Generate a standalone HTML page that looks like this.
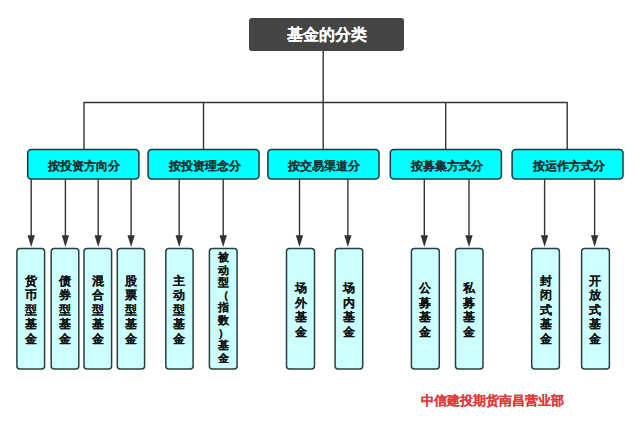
<!DOCTYPE html>
<html><head><meta charset="utf-8">
<style>
html,body{margin:0;padding:0;background:#fff;width:640px;height:430px;overflow:hidden;}
body{position:relative;font-family:"Liberation Sans",sans-serif;}
svg{position:absolute;left:0;top:0;}
.t{position:absolute;left:249px;top:18px;width:155px;height:33px;color:#fff;font-weight:bold;font-size:16px;line-height:33px;text-align:center;-webkit-text-stroke:0.1px #fff;}
.c{position:absolute;top:149.6px;height:29.40px;color:#0f3535;font-weight:bold;font-size:12px;line-height:30px;padding-top:1.5px;padding-left:1px;text-align:center;-webkit-text-stroke:0.1px #0f3535;}
.l{position:absolute;top:248.4px;height:120.60px;color:#111;font-weight:bold;font-size:11.5px;line-height:14.5px;text-align:center;display:flex;align-items:center;justify-content:center;-webkit-text-stroke:0.1px #111;}
.l span{display:block;padding-top:3px;}
.l span.s{font-size:11px;line-height:12.6px;padding-top:0;margin-top:-2px;}
.r{position:absolute;left:421px;top:393px;color:#e03a3a;font-weight:bold;font-size:13px;line-height:16px;-webkit-text-stroke:0.1px #e03a3a;}
</style></head><body>
<svg width="640" height="430">
<rect x="249" y="18" width="155" height="33" rx="3" fill="#444"/>
<g stroke="#333" stroke-width="1.4" fill="none" stroke-linejoin="round">
<line x1="323.2" y1="51" x2="323.2" y2="149"/>
<path d="M84 149 V102.5 H567.2 V149"/>
<line x1="203.5" y1="102.5" x2="203.5" y2="149"/>
<line x1="445.7" y1="102.5" x2="445.7" y2="149"/>
</g>
<g stroke="#163a3a" stroke-width="1.5">
<rect x="27.7" y="149.6" width="111.20" height="29.40" rx="3.5" fill="#00ffff"/>
<rect x="148.1" y="149.6" width="110.90" height="29.40" rx="3.5" fill="#00ffff"/>
<rect x="267.9" y="149.6" width="111.10" height="29.40" rx="3.5" fill="#00ffff"/>
<rect x="390.3" y="149.6" width="111.10" height="29.40" rx="3.5" fill="#00ffff"/>
<rect x="512.1" y="149.6" width="110.90" height="29.40" rx="3.5" fill="#00ffff"/>
</g>
<g stroke="#2b3f3f" stroke-width="1.5">
<rect x="16.9" y="248.4" width="27.70" height="120.60" rx="3" fill="#ccffff"/>
<rect x="51.2" y="248.4" width="27.60" height="120.60" rx="3" fill="#ccffff"/>
<rect x="84.0" y="248.4" width="27.60" height="120.60" rx="3" fill="#ccffff"/>
<rect x="117.3" y="248.4" width="27.30" height="120.60" rx="3" fill="#ccffff"/>
<rect x="165.8" y="248.4" width="27.30" height="120.60" rx="3" fill="#ccffff"/>
<rect x="209.4" y="248.4" width="27.70" height="120.60" rx="3" fill="#ccffff"/>
<rect x="286.5" y="248.4" width="28.00" height="120.60" rx="3" fill="#ccffff"/>
<rect x="335.1" y="248.4" width="27.60" height="120.60" rx="3" fill="#ccffff"/>
<rect x="411.4" y="248.4" width="27.90" height="120.60" rx="3" fill="#ccffff"/>
<rect x="455.5" y="248.4" width="27.50" height="120.60" rx="3" fill="#ccffff"/>
<rect x="531.7" y="248.4" width="27.70" height="120.60" rx="3" fill="#ccffff"/>
<rect x="581.6" y="248.4" width="27.80" height="120.60" rx="3" fill="#ccffff"/>
</g>
<g stroke="#333" stroke-width="1.4" fill="#333">
<line x1="31.2" y1="179.0" x2="31.2" y2="238"/>
<polygon stroke="none" points="27.55,235.3 34.85,235.3 31.2,247"/>
<line x1="65.4" y1="179.0" x2="65.4" y2="238"/>
<polygon stroke="none" points="61.75,235.3 69.05,235.3 65.4,247"/>
<line x1="98.2" y1="179.0" x2="98.2" y2="238"/>
<polygon stroke="none" points="94.55,235.3 101.85,235.3 98.2,247"/>
<line x1="131.1" y1="179.0" x2="131.1" y2="238"/>
<polygon stroke="none" points="127.45,235.3 134.75,235.3 131.1,247"/>
<line x1="179.2" y1="179.0" x2="179.2" y2="238"/>
<polygon stroke="none" points="175.55,235.3 182.85,235.3 179.2,247"/>
<line x1="223.2" y1="179.0" x2="223.2" y2="238"/>
<polygon stroke="none" points="219.55,235.3 226.85,235.3 223.2,247"/>
<line x1="299.5" y1="179.0" x2="299.5" y2="238"/>
<polygon stroke="none" points="295.85,235.3 303.15,235.3 299.5,247"/>
<line x1="347.9" y1="179.0" x2="347.9" y2="238"/>
<polygon stroke="none" points="344.25,235.3 351.55,235.3 347.9,247"/>
<line x1="424.3" y1="179.0" x2="424.3" y2="238"/>
<polygon stroke="none" points="420.65,235.3 427.95,235.3 424.3,247"/>
<line x1="469.0" y1="179.0" x2="469.0" y2="238"/>
<polygon stroke="none" points="465.35,235.3 472.65,235.3 469.0,247"/>
<line x1="544.6" y1="179.0" x2="544.6" y2="238"/>
<polygon stroke="none" points="540.95,235.3 548.25,235.3 544.6,247"/>
<line x1="594.6" y1="179.0" x2="594.6" y2="238"/>
<polygon stroke="none" points="590.95,235.3 598.25,235.3 594.6,247"/>
</g>
</svg>
<div class="t">基金的分类</div>
<div class="c" style="left:27.7px;width:111.20px">按投资方向分</div>
<div class="c" style="left:148.1px;width:110.90px">按投资理念分</div>
<div class="c" style="left:267.9px;width:111.10px">按交易渠道分</div>
<div class="c" style="left:390.3px;width:111.10px">按募集方式分</div>
<div class="c" style="left:512.1px;width:110.90px">按运作方式分</div>
<div class="l" style="left:16.9px;width:27.70px"><span>货<br>币<br>型<br>基<br>金</span></div>
<div class="l" style="left:51.2px;width:27.60px"><span>债<br>券<br>型<br>基<br>金</span></div>
<div class="l" style="left:84.0px;width:27.60px"><span>混<br>合<br>型<br>基<br>金</span></div>
<div class="l" style="left:117.3px;width:27.30px"><span>股<br>票<br>型<br>基<br>金</span></div>
<div class="l" style="left:165.8px;width:27.30px"><span>主<br>动<br>型<br>基<br>金</span></div>
<div class="l" style="left:209.4px;width:27.70px"><span class="s">被<br>动<br>型<br>（<br>指<br>数<br>）<br>基<br>金</span></div>
<div class="l" style="left:286.5px;width:28.00px"><span>场<br>外<br>基<br>金</span></div>
<div class="l" style="left:335.1px;width:27.60px"><span>场<br>内<br>基<br>金</span></div>
<div class="l" style="left:411.4px;width:27.90px"><span>公<br>募<br>基<br>金</span></div>
<div class="l" style="left:455.5px;width:27.50px"><span>私<br>募<br>基<br>金</span></div>
<div class="l" style="left:531.7px;width:27.70px"><span>封<br>闭<br>式<br>基<br>金</span></div>
<div class="l" style="left:581.6px;width:27.80px"><span>开<br>放<br>式<br>基<br>金</span></div>
<div class="r">中信建投期货南昌营业部</div>
</body></html>
